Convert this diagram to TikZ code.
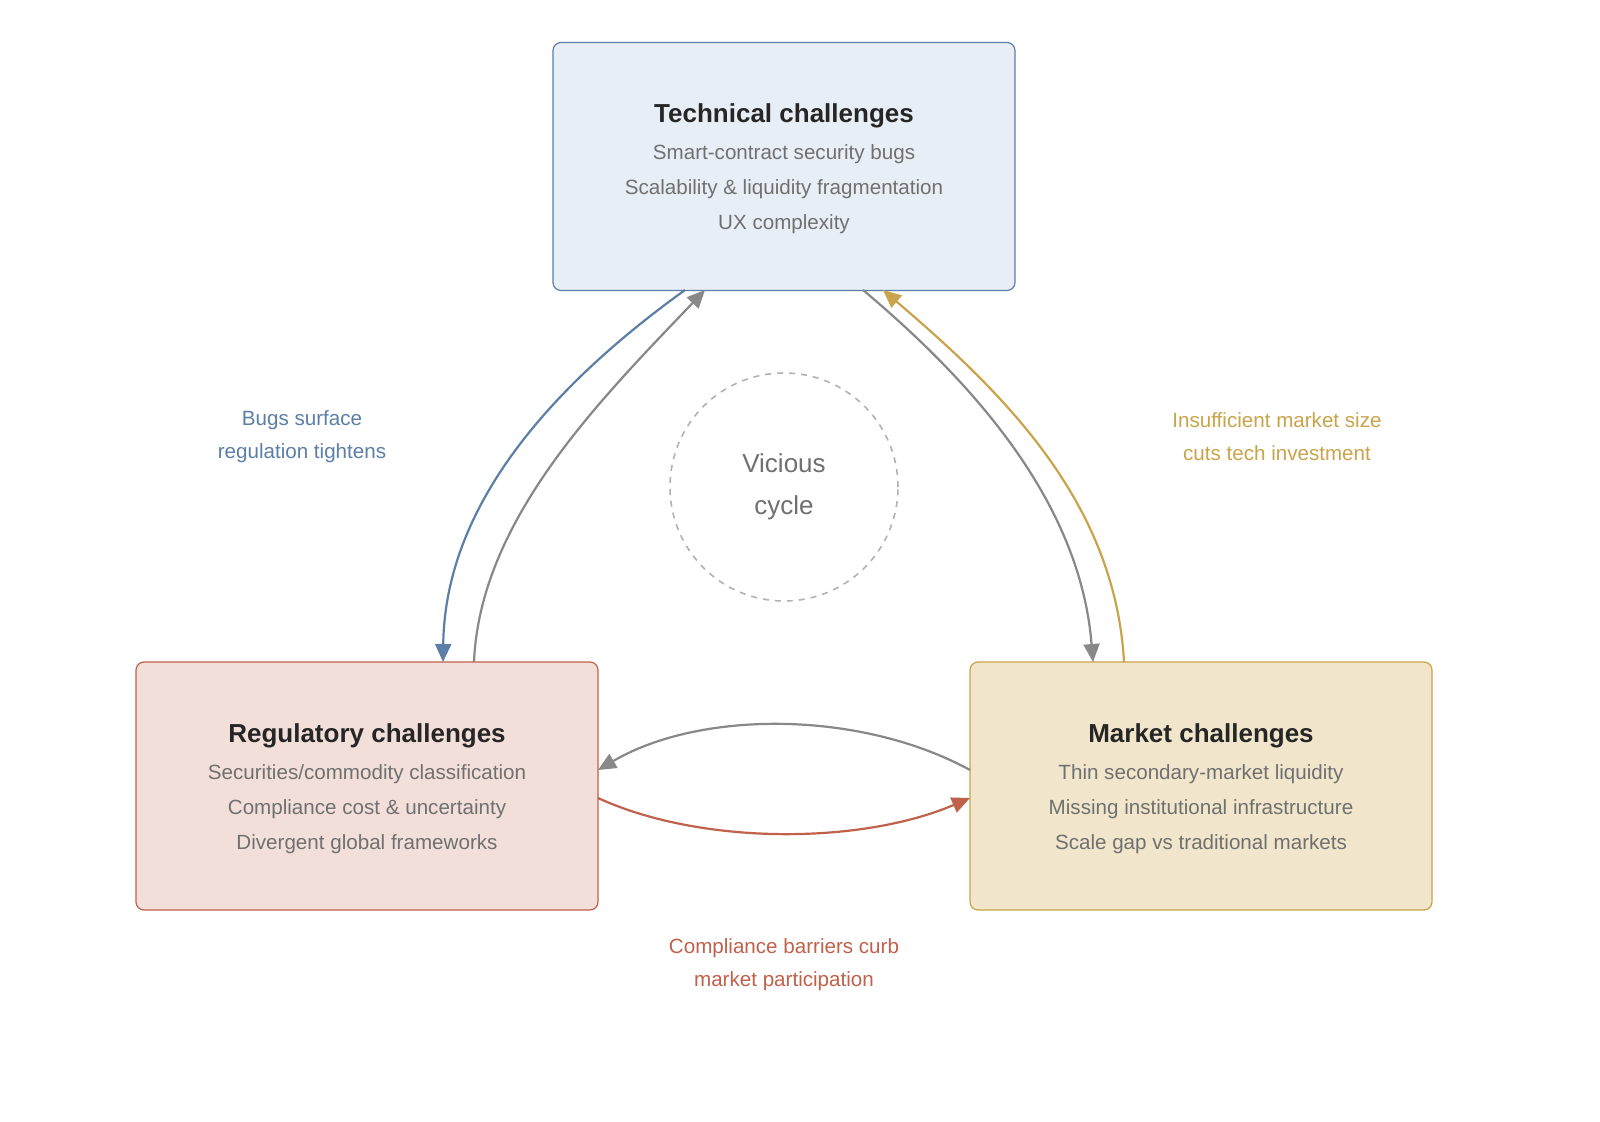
\documentclass[tikz,border=0pt]{standalone}
\usepackage{fontspec}
\setmainfont{Liberation Sans}
\usetikzlibrary{arrows.meta}
\definecolor{tb}{HTML}{5B7FA6}\definecolor{tf}{HTML}{E8EEF6}
\definecolor{rb}{HTML}{C0614B}\definecolor{rf}{HTML}{F3DFD9}
\definecolor{mb}{HTML}{C9A44A}\definecolor{mf}{HTML}{F1E6CB}
\definecolor{gt}{HTML}{707070}\definecolor{ga}{HTML}{888888}
\begin{document}
\begin{tikzpicture}[x=0.5pt,y=-0.5pt,
 box/.style={draw,rounded corners=4pt,line width=0.6pt,minimum width=231pt,minimum height=124pt,align=center,inner sep=0pt},
 ttl/.style={font=\fontsize{13}{16}\selectfont\bfseries,text=black!85},
 bd/.style={font=\fontsize{10.3}{17.5}\selectfont,text=gt},
 arr/.style={line width=1.1pt,-{Triangle[length=9pt,width=8pt]}},
 lbl/.style={align=center,font=\fontsize{10.3}{16.5}\selectfont}]
\fill[white] (0,0) rectangle (1600,1122);
\useasboundingbox (0,0) rectangle (1600,1122);
\node[box,draw=tb,fill=tf] (tech) at (784,166.5) {};
\node[box,draw=rb,fill=rf] (reg) at (367,786) {};
\node[box,draw=mb,fill=mf] (mkt) at (1201,786) {};
\node[ttl] (tt) at (784,116) {Technical challenges};
\node[bd,align=center] (tb1) at (784,189) {Smart-contract security bugs\\Scalability \& liquidity fragmentation\\UX complexity};
\node[ttl] (rt) at (367,736) {Regulatory challenges};
\node[bd,align=center] (rb1) at (367,809) {Securities/commodity classification\\Compliance cost \& uncertainty\\Divergent global frameworks};
\node[ttl] (mt) at (1201,736) {Market challenges};
\node[bd,align=center] (mb1) at (1201,809) {Thin secondary-market liquidity\\Missing institutional infrastructure\\Scale gap vs traditional markets};
\node[circle,draw=black!30,dashed,line width=0.8pt,minimum size=114pt] (cyc) at (784,487) {};
\node[lbl,font=\fontsize{13}{21}\selectfont,text=gt] (cl) at (784,487) {Vicious\\cycle};
\coordinate (t1) at (685,290); \coordinate (t2) at (705,290);
\coordinate (t3) at (863,290); \coordinate (t4) at (883,290);
\coordinate (r1) at (443,662); \coordinate (r2) at (474,662);
\coordinate (r3) at (598,770); \coordinate (r4) at (598,798);
\coordinate (m1) at (1093,662); \coordinate (m2) at (1124,662);
\coordinate (m3) at (970,770); \coordinate (m4) at (970,798);
\draw[arr,tb] (t1) .. controls (560,380) and (445,500) .. (r1);
\draw[arr,ga] (r2) .. controls (480,520) and (600,400) .. (t2);
\draw[arr,ga] (t3) .. controls (970,380) and (1080,500) .. (m1);
\draw[arr,mb] (m2) .. controls (1115,500) and (1000,390) .. (t4);
\draw[arr,ga] (m3) .. controls (860,710) and (700,710) .. (r3);
\draw[arr,rb] (r4) .. controls (700,845) and (860,845) .. (m4);
\node[lbl,text=tb] (l1) at (302,437) {Bugs surface\\regulation tightens};
\node[lbl,text=mb] (l2) at (1277,437) {Insufficient market size\\cuts tech investment};
\node[lbl,text=rb] (l3) at (784,965) {Compliance barriers curb\\market participation};
\end{tikzpicture}
\end{document}
